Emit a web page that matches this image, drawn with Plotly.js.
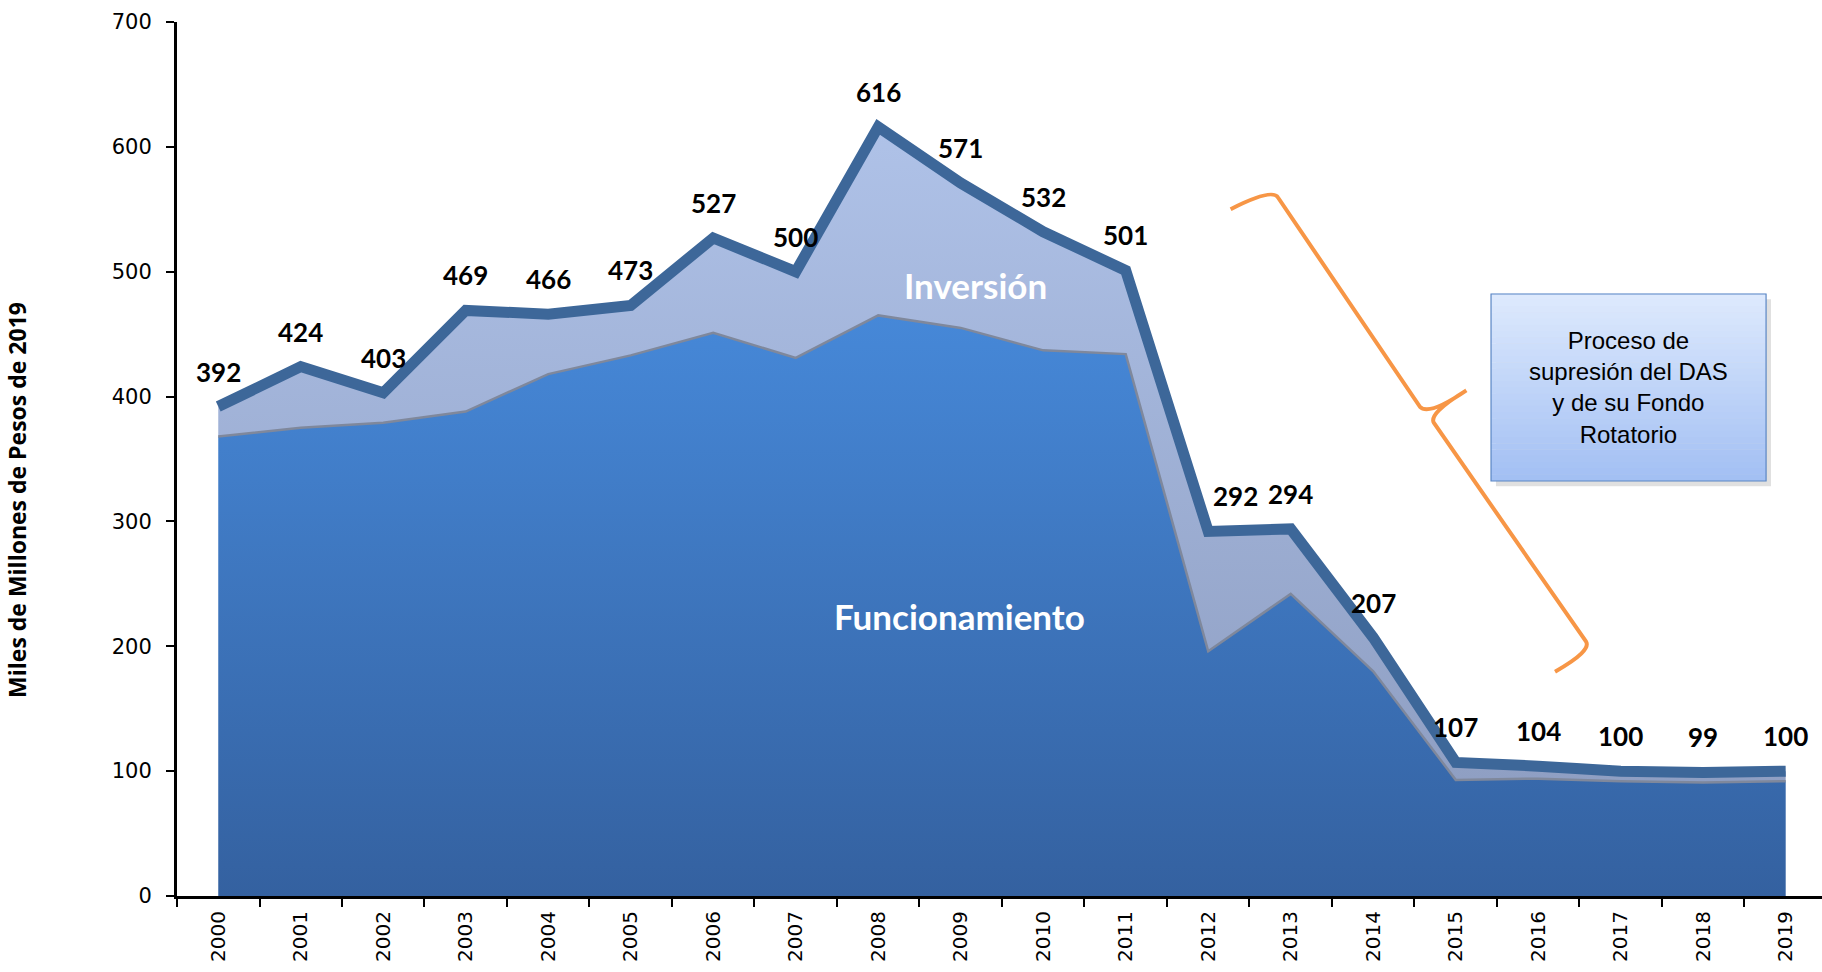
<!DOCTYPE html>
<html>
<head>
<meta charset="utf-8">
<script src="https://cdn.plot.ly/plotly-3.0.1.min.js"></script>
<style>html,body{margin:0;padding:0;background:#fff;}#chart{width:1822px;height:972px;}</style>
</head>
<body>
<div id="chart"></div>
<script>
// ---- data ----
const years = ['2000','2001','2002','2003','2004','2005','2006','2007','2008','2009',
               '2010','2011','2012','2013','2014','2015','2016','2017','2018','2019'];
const total = [392,424,403,469,466,473,527,500,616,571,532,501,292,294,207,107,104,100,99,100];
const funcionamiento = [368,375,379,388,418,433,451,431,465,455,437,434,196,242,180,93,94,92,91,92];
const totalLabels = total.map(String);
const yTicks = [0,100,200,300,400,500,600,700];
const yTitle = 'Miles de Millones de Pesos de 2019';
const boxText = 'Proceso de<br>supresión del DAS<br>y de su Fondo<br>Rotatorio';

// ---- traces ----
const traces = [
  {
    x: years, y: funcionamiento, type: 'scatter', mode: 'lines', fill: 'tozeroy',
    line: {color: '#7f889c', width: 2.5},
    fillgradient: {type: 'vertical', colorscale: [[0, '#3461a0'], [1, '#4688d8']]},
    hoverinfo: 'skip', showlegend: false
  },
  {
    x: years, y: total, type: 'scatter', mode: 'lines', fill: 'tonexty',
    line: {color: '#3d6799', width: 11},
    fillgradient: {type: 'vertical', colorscale: [[0, '#8f9fc3'], [1, '#afc2e8']]},
    hoverinfo: 'skip', showlegend: false
  }
];

// ---- annotations ----
const labelXShift = {'2012': 27};
const annotations = years.map((yr, i) => ({
  x: i, y: total[i], xref: 'x', yref: 'y', xanchor: 'center', yanchor: 'middle',
  text: '<b>' + totalLabels[i] + '</b>', showarrow: false,
  yshift: 35, xshift: labelXShift[yr] || 0,
  font: {family: 'Lato, "Open Sans", sans-serif', size: 26, color: '#000'}
}));

annotations.push(
  {xref: 'paper', yref: 'paper', x: 0.4857, y: 0.6991, xanchor: 'center', yanchor: 'middle',
   text: '<b>Inversión</b>', showarrow: false,
   font: {family: 'Lato, "Open Sans", sans-serif', size: 35, color: '#ffffff'}},
  {xref: 'paper', yref: 'paper', x: 0.4754, y: 0.3204, xanchor: 'center', yanchor: 'middle',
   text: '<b>Funcionamiento</b>', showarrow: false,
   font: {family: 'Lato, "Open Sans", sans-serif', size: 35, color: '#ffffff'}},
  {xref: 'paper', yref: 'paper', x: -0.0973, y: 0.4531, xanchor: 'center', yanchor: 'middle',
   text: '<b>' + yTitle + '</b>', showarrow: false,
   textangle: -90, font: {family: '"Liberation Sans Narrow", "Open Sans", sans-serif', size: 23, color: '#000'}},
  {xref: 'paper', yref: 'paper', x: 0.8824, y: 0.5818, xanchor: 'center', yanchor: 'middle',
   text: boxText, showarrow: false,
   align: 'center', font: {family: '"Liberation Sans", Arial, sans-serif', size: 24, color: '#000'}}
);

// ---- shapes: text box with gradient and brace ----
const shapes = [];
const bx0 = 0.7988, bx1 = 0.9660, byTop = 0.6888, byBot = 0.4748;
shapes.push({type: 'rect', xref: 'paper', yref: 'paper', x0: bx0 + 0.003, x1: bx1 + 0.003,
  y0: byBot - 0.006, y1: byTop - 0.006, fillcolor: 'rgba(0,0,0,0.12)', line: {width: 0}, layer: 'above'});
const nStrips = 30;
const cTop = [222, 234, 253], cBot = [162, 191, 243];
for (let k = 0; k < nStrips; k++) {
  const t = (k + 0.5) / nStrips;
  const c = cTop.map((v, j) => Math.round(v + (cBot[j] - v) * t));
  const yA = byTop - (byTop - byBot) * k / nStrips;
  const yB = byTop - (byTop - byBot) * (k + 1) / nStrips;
  shapes.push({type: 'rect', xref: 'paper', yref: 'paper', x0: bx0, x1: bx1, y0: yB, y1: yA + 0.0005,
    fillcolor: `rgb(${c[0]},${c[1]},${c[2]})`, line: {width: 0}, layer: 'above'});
}
shapes.push({type: 'rect', xref: 'paper', yref: 'paper', x0: bx0, x1: bx1, y0: byBot, y1: byTop,
  fillcolor: 'rgba(0,0,0,0)', line: {color: '#5a86c4', width: 1.2}, layer: 'above'});
shapes.push({type: 'path', xref: 'paper', yref: 'paper', layer: 'above',
  path: 'M 0.6405,0.7858 Q 0.6657,0.8101 0.6693,0.7992 L 0.7556,0.5597 Q 0.7611,0.5492 0.7838,0.5785 ' +
        'M 0.7838,0.5785 Q 0.7605,0.5518 0.7641,0.5412 L 0.8565,0.2913 Q 0.8602,0.2807 0.8377,0.2567',
  line: {color: '#f79646', width: 4}});

const layout = {
  width: 1822, height: 972,
  margin: {l: 177, r: 0, t: 22, b: 76},
  paper_bgcolor: '#ffffff', plot_bgcolor: '#ffffff',
  showlegend: false,
  xaxis: {
    type: 'category', range: [-0.5, 19.44], showgrid: false, zeroline: false,
    showline: true, linecolor: '#000', linewidth: 3,
    ticks: 'outside', tickson: 'boundaries', ticklen: 8, tickwidth: 2, tickcolor: '#000',
    tickangle: -90, ticklabelstandoff: 4,
    tickfont: {family: '"DejaVu Sans", sans-serif', size: 20, color: '#000'}
  },
  yaxis: {
    range: [0, 700], tickvals: yTicks, showgrid: false, zeroline: false,
    showline: true, linecolor: '#000', linewidth: 3,
    ticks: 'outside', ticklen: 8, tickwidth: 2, tickcolor: '#000', ticklabelstandoff: 10,
    tickfont: {family: '"DejaVu Sans", sans-serif', size: 21, color: '#000'}
  },
  annotations: annotations,
  shapes: shapes
};

Plotly.newPlot('chart', traces, layout, {displayModeBar: false, staticPlot: true});
</script>
</body>
</html>
